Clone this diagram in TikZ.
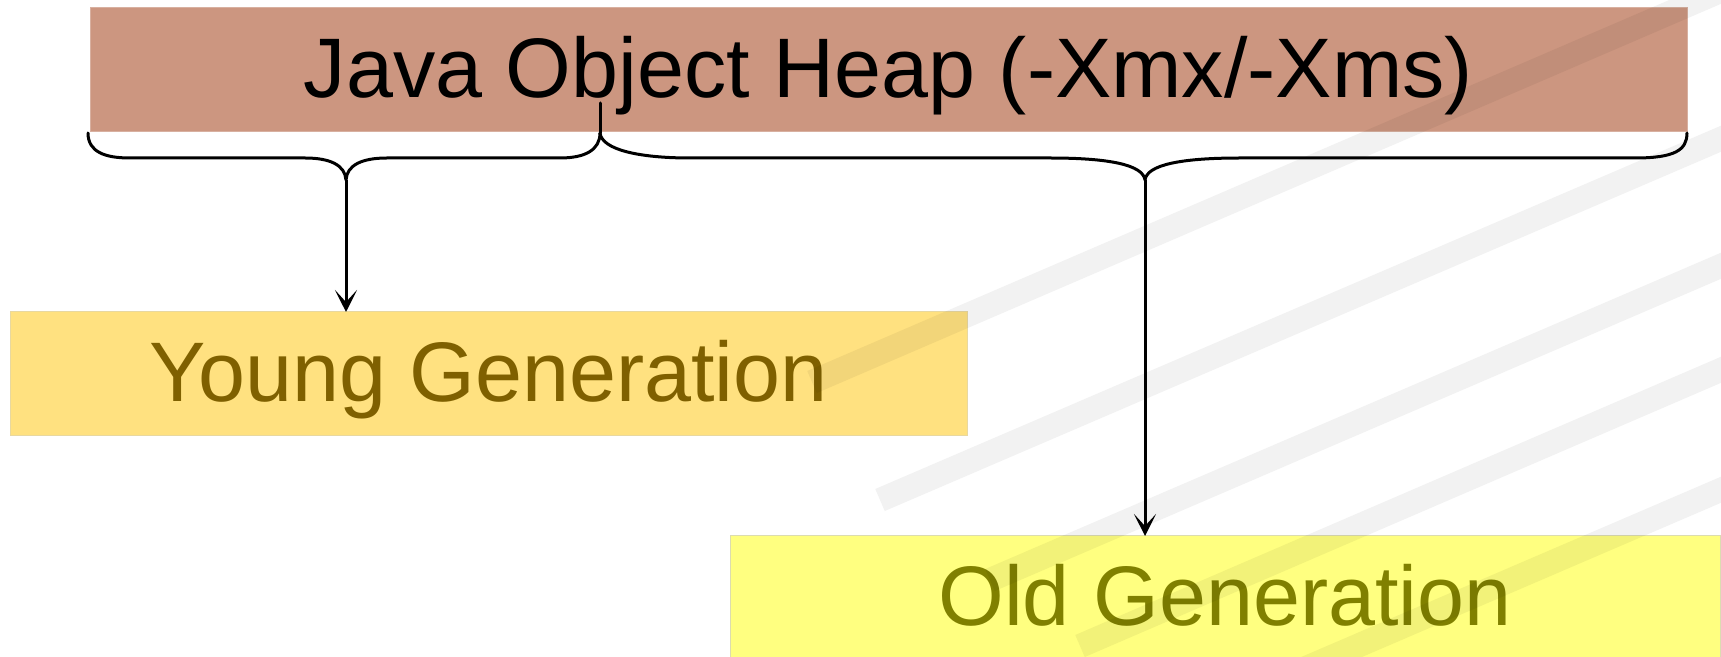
\documentclass[tikz,border=0pt]{standalone}
\usepackage{fontspec}
\setmainfont{Liberation Sans}
\usetikzlibrary{arrows.meta}
\definecolor{heapfill}{RGB}{204,150,128}
\definecolor{heapline}{RGB}{216,176,160}
\definecolor{youngfill}{RGB}{255,225,128}
\definecolor{youngline}{RGB}{232,216,160}
\definecolor{youngtext}{RGB}{127,96,0}
\definecolor{oldfill}{RGB}{255,255,128}
\definecolor{oldline}{RGB}{220,220,176}
\definecolor{oldtext}{RGB}{128,128,0}
\begin{document}
\begin{tikzpicture}[x=0.5pt,y=-0.5pt,
  box/.style={rectangle, inner sep=0pt, outer sep=0pt, line width=0.5pt,
    font=\fontsize{42.25}{50}\selectfont, text height=30.2pt, text depth=3pt},
  bracepath/.style={line width=1.5pt, line cap=round, line join=round},
  arr/.style={line width=1.5pt, -{Stealth[length=11pt,width=11pt,inset=6pt]}},
  stripe/.style={line width=12pt, black, opacity=0.05, line cap=butt}]
\useasboundingbox (0,0) rectangle (1721,657);

\node[box, fill=heapfill, draw=heapline, minimum width=798.5pt, minimum height=62pt, text=black]
  (heap) at (888.5,70) {Java Object Heap (-Xmx/-Xms)};
\node[box, fill=youngfill, draw=youngline, minimum width=478.5pt, minimum height=62pt, text=youngtext]
  (young) at (488.5,374) {Young Generation};
\node[box, fill=oldfill, draw=oldline, minimum width=495pt, minimum height=62pt, text=oldtext]
  (old) at (1225,598) {Old Generation};

\coordinate (split) at (600,133);
\coordinate (ytip) at (346,180);
\coordinate (otip) at (1145,180);

% tick into the heap box
\draw[bracepath] (600,103) -- (split);

% left brace (young)
\draw[bracepath] (88,133) .. controls (88,152) and (105,158) .. (130,158) -- (305,158)
  .. controls (330,158) and (345,165) .. (ytip)
  .. controls (347,165) and (362,158) .. (387,158) -- (560,158)
  .. controls (585,158) and (600,150) .. (split);

% right brace (old)
\draw[bracepath] (split) .. controls (602,150) and (640,158) .. (690,158) -- (1050,158)
  .. controls (1110,158) and (1143,165) .. (otip)
  .. controls (1147,165) and (1180,158) .. (1240,158) -- (1635,158)
  .. controls (1675,158) and (1687,150) .. (1687,133);

\draw[arr] (ytip) -- (ytip |- young.north);
\draw[arr] (otip) -- (otip |- old.north);

% faint diagonal background bands
\begin{scope}
\clip (0,0) rectangle (1721,657);
\draw[stripe] (812,382) -- (1760,-26);
\draw[stripe] (880,500) -- (1760,122);
\draw[stripe] (990,580) -- (1760,249);
\draw[stripe] (1080,646) -- (1760,353);
\draw[stripe] (1150,735) -- (1760,473);
\end{scope}
\end{tikzpicture}
\end{document}
